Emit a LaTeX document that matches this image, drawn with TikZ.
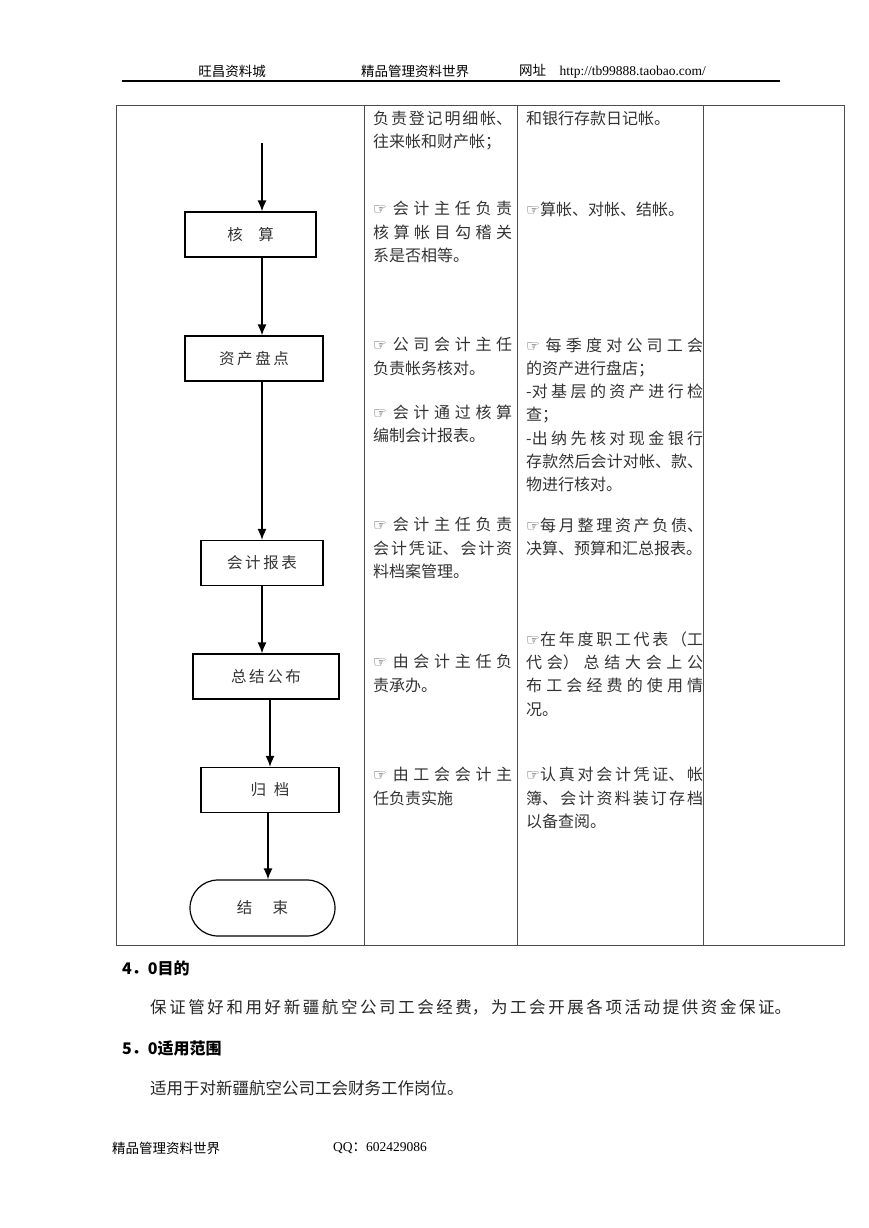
\documentclass[tikz,border=0pt]{standalone}
\usepackage{fontspec}
\setmainfont{Liberation Serif}
\newfontfamily\cjk{Noto Sans CJK SC}
\newfontfamily\symf{DejaVu Sans}
\usetikzlibrary{arrows.meta,shapes.misc}
\XeTeXlinebreaklocale "zh"
\XeTeXlinebreakskip=0pt plus 4pt
\newcommand{\hand}{{\symf\fontsize{15.5}{15}\selectfont ☞}}

\begin{document}
\begin{tikzpicture}[x=1pt,y=-1pt,
    procbox/.style={draw, line width=1.2pt, minimum height=45pt, inner sep=0pt,
        font=\cjk\fontsize{15.5}{18}\selectfont, text=black!80},
    flow/.style={-{Latex[length=11pt,width=9pt]}, line width=1.4pt},
    cell/.style={anchor=north west, inner sep=0pt, align=justify,
        font=\cjk\fontsize{16}{23.3}\selectfont, text=black!80},
    head/.style={font=\cjk\fontsize{13.5}{16}\selectfont, inner sep=0pt}]
    \useasboundingbox (0,0) rectangle (868,1228);

    % page header
    \node[head] (site) at (232,71) {旺昌资料城};
    \node[head] (title) at (415,71) {精品管理资料世界};
    \node[head, anchor=west] (url) at (519,71) {网址\quad{\rmfamily http://tb99888.taobao.com/}};
    \draw[line width=1.3pt] (122,81) -- (780,81);

    % table
    \draw[black!70, line width=0.9pt] (116,105) rectangle (844,945);
    \foreach \x in {364,517,703} {
        \draw[black!70, line width=0.9pt] (\x,105) -- (\x,945);
    }

    % flow chart
    \coordinate (start) at (262,143);
    \node[procbox, minimum width=131pt] (hesuan) at (250.5,234.5) {核\quad 算};
    \node[procbox, minimum width=138pt] (zichan) at (254,358.5) {资\,产\,盘\,点};
    \node[procbox, minimum width=122pt] (baobiao) at (262,563) {会\,计\,报\,表};
    \node[procbox, minimum width=146pt] (gongbu) at (266,676.5) {总\,结\,公\,布};
    \node[procbox, minimum width=138pt] (guidang) at (270,790) {归\enspace 档};
    \node[procbox, rounded rectangle, minimum width=145pt, minimum height=56pt] (jieshu) at (262.5,908) {结\hspace{1.3em}束};

    \draw[flow] (start) -- (start |- hesuan.north);
    \draw[flow] ([xshift=11.5pt]hesuan.south) -- ([xshift=11.5pt]hesuan.south |- zichan.north);
    \draw[flow] ([xshift=8pt]zichan.south) -- ([xshift=8pt]zichan.south |- baobiao.north);
    \draw[flow] (baobiao.south) -- (baobiao.south |- gongbu.north);
    \draw[flow] ([xshift=4pt]gongbu.south) -- ([xshift=4pt]gongbu.south |- guidang.north);
    \draw[flow] ([xshift=-2pt]guidang.south) -- ([xshift=-2pt]guidang.south |- jieshu.north);

    % who does it
    \node[cell, text width=139pt] (dutyA) at (373,110.5) {负责登记明细帐、\linebreak 往来帐和财产帐；};
    \node[cell, text width=139pt] (dutyB) at (373,201.3) {\hand{} 会计主任负责\linebreak 核算帐目勾稽关\linebreak 系是否相等。};
    \node[cell, text width=139pt] (dutyC) at (373,337.3) {\hand{} 公司会计主任\linebreak 负责帐务核对。};
    \node[cell, text width=139pt] (dutyD) at (373,404.3) {\hand{} 会计通过核算\linebreak 编制会计报表。};
    \node[cell, text width=139pt] (dutyE) at (373,517.3) {\hand{} 会计主任负责\linebreak 会计凭证、会计资\linebreak 料档案管理。};
    \node[cell, text width=139pt] (dutyF) at (373,654.3) {\hand{} 由会计主任负\linebreak 责承办。};
    \node[cell, text width=139pt] (dutyG) at (373,767.3) {\hand{} 由工会会计主\linebreak 任负责实施};

    % what is done
    \node[cell, text width=177pt] (workA) at (526,110.5) {和银行存款日记帐。};
    \node[cell, text width=177pt] (workB) at (526,201.3) {\hand 算帐、对帐、结帐。};
    \node[cell, text width=177pt] (workC) at (526,337.3) {\hand{} 每季度对公司工会\linebreak 的资产进行盘店；\\ -对基层的资产进行检\linebreak 查；\\ -出纳先核对现金银行\linebreak 存款然后会计对帐、款、\linebreak 物进行核对。};
    \node[cell, text width=177pt] (workD) at (526,517.3) {\hand 每月整理资产负债、\linebreak 决算、预算和汇总报表。};
    \node[cell, text width=177pt] (workE) at (526,631.3) {\hand 在年度职工代表（工\linebreak 代会）总结大会上公\linebreak 布工会经费的使用情\linebreak 况。};
    \node[cell, text width=177pt] (workF) at (526,767.3) {\hand 认真对会计凭证、帐\linebreak 簿、会计资料装订存档\linebreak 以备查阅。};

    % sections below the table
    \node[anchor=west, inner sep=0pt, font=\cjk\bfseries\fontsize{16}{18}\selectfont] (sec4) at (122,968) {4．0目的};
    \node[anchor=west, inner sep=0pt, text width=641pt, align=justify, font=\cjk\fontsize{16.5}{20}\selectfont, text=black!85] (purpose) at (150,1007) {{\parfillskip=0pt 保证管好和用好新疆航空公司工会经费，为工会开展各项活动提供资金保证。\par}};
    \node[anchor=west, inner sep=0pt, font=\cjk\bfseries\fontsize{16}{18}\selectfont] (sec5) at (122,1048) {5．0适用范围};
    \node[anchor=west, inner sep=0pt, font=\cjk\fontsize{16.5}{20}\selectfont, text=black!85] (scope) at (150,1088) {适用于对新疆航空公司工会财务工作岗位。};

    % page footer
    \node[head, anchor=west] (brand) at (112,1148) {精品管理资料世界};
    \node[head, anchor=west] (qq) at (333,1148) {{\rmfamily QQ}：{\rmfamily 602429086}};
\end{tikzpicture}
\end{document}
